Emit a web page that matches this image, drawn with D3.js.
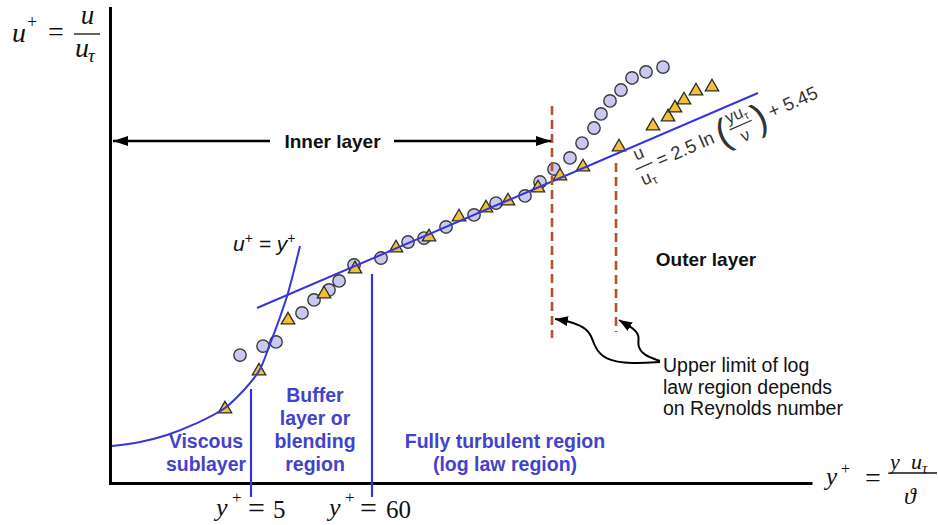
<!DOCTYPE html>
<html><head><meta charset="utf-8">
<script src="https://cdn.jsdelivr.net/npm/d3@7"></script>
<style>body{margin:0;background:#fff}svg{display:block}</style>
</head><body>
<svg id="c" width="938" height="525"></svg>
<script>
// ---- data (y+ on a log axis, u+ linear) ----
const circleYPlus = [3.99, 6.40, 8.36, 14.25, 18.24, 24.8, 30.5, 41.5, 72.2, 125.7, 174.6, 274.3, 487.5, 766, 1389, 1890, 2520, 3500, 4480, 5730, 6617, 7960, 9977, 12510, 16670, 23640];
const circleUPlus = [8.08, 8.65, 8.91, 10.74, 11.56, 12.19, 12.76, 13.77, 14.21, 15.22, 15.47, 16.17, 16.93, 17.68, 18.13, 19.01, 19.83, 20.53, 21.47, 22.42, 23.31, 24.13, 24.82, 25.58, 25.96, 26.27];
const triYPlus = [2.93, 5.89, 10.69, 22.4, 42.3, 98.2, 193.5, 358.3, 623.7, 979.9, 1815, 2851, 4572, 9577, 19250, 26200, 30250, 36390, 46560, 64660];
const triUPlus = [4.67, 7.07, 10.29, 11.94, 13.52, 14.84, 15.54, 16.80, 17.37, 17.81, 18.63, 19.39, 19.96, 21.22, 22.55, 23.12, 23.68, 24.19, 24.76, 25.01];
const logLawYPlus = [5.655, 166300];
const logLawUPlus = [11.05, 24.63];
const viscousYPlus = [0.2878, 0.5117, 0.891, 1.583, 2.93, 4.243, 5.89, 7.387, 9.072, 10.69, 13.68];
const viscousUPlus = [2.34, 2.59, 3.03, 3.73, 4.74, 5.81, 7.07, 8.78, 10.48, 12.0, 14.97];
const boundYPlus = [5, 60];
const boundTopUPlus = [5.94, 13.2];
const boundBottomUPlus = -0.88;
const reLimitYPlus = [2419, 9008];
const reLimitTopUPlus = [23.81, 20.21];
const reLimitBottomUPlus = [9.16, 9.54];
const innerLayerUPlus = 21.6;
const innerLayerStartYPlus = 0.2938;
const regionLabels = [
  {lines: ["Viscous", "sublayer"], cx: 206, y0: 448},
  {lines: ["Buffer", "layer or", "blending", "region"], cx: 315, y0: 402},
  {lines: ["Fully turbulent region", "(log law region)"], cx: 505, y0: 448}
];
const noteLines = ["Upper limit of log", "law region depends", "on Reynolds number"];
const innerLabel = "Inner layer";
const outerLabel = "Outer layer";

// ---- scales ----
const x = d3.scaleLog().domain([0.2763, 504100]).range([110, 812]);
const y = d3.scaleLinear().domain([0, 30]).range([483, 8]);

const svg = d3.select("#c");
const BLUE = "#3636d8", TEXTBLUE = "#4242cc", BROWN = "#b4502a";
const SANS = "'Liberation Sans', Arial, sans-serif";
const SERIF = "'Liberation Serif', 'DejaVu Serif', serif";

const defs = svg.append("defs");
function marker(id, len, wid) {
  defs.append("marker").attr("id", id).attr("markerUnits", "userSpaceOnUse")
    .attr("viewBox", `0 ${-wid/2} ${len} ${wid}`).attr("refX", len).attr("refY", 0)
    .attr("markerWidth", len).attr("markerHeight", wid).attr("orient", "auto")
    .append("path").attr("d", `M0,${-wid/2}L${len},0L0,${wid/2}Z`).attr("fill", "#000");
}
marker("arrBig", 15, 10);
marker("arrSmall", 13, 10);

// ---- axes ----
svg.append("g").attr("transform", `translate(0,${y(0)})`)
  .call(d3.axisBottom(x).tickValues([]).tickSizeOuter(0))
  .call(g => g.select(".domain").attr("stroke", "#000").attr("stroke-width", 3));
svg.append("g").attr("transform", `translate(${x.range()[0]},0)`)
  .call(d3.axisLeft(y).tickValues([]).tickSizeOuter(0))
  .call(g => g.select(".domain").attr("stroke", "#000").attr("stroke-width", 3).attr("stroke-linecap", "square"));

// ---- markers ----
svg.append("g").selectAll("circle").data(circleYPlus.map((v, i) => [v, circleUPlus[i]])).join("circle")
  .attr("cx", d => x(d[0])).attr("cy", d => y(d[1])).attr("r", 6.2)
  .attr("fill", "#c8c8f0").attr("stroke", "#3a3a3a").attr("stroke-width", 1.4);
const tri = d3.symbol().type(d3.symbolTriangle).size(78);
svg.append("g").selectAll("path").data(triYPlus.map((v, i) => [v, triUPlus[i]])).join("path")
  .attr("d", tri).attr("transform", d => `translate(${x(d[0])},${y(d[1])})`)
  .attr("fill", "#f2c035").attr("stroke", "#2a2a2a").attr("stroke-width", 1.3);

// ---- lines ----
const line = d3.line().x(d => x(d[0])).y(d => y(d[1]));
svg.append("path").datum(logLawYPlus.map((v, i) => [v, logLawUPlus[i]]))
  .attr("d", line).attr("fill", "none").attr("stroke", BLUE).attr("stroke-width", 2);
svg.append("path").datum(viscousYPlus.map((v, i) => [v, viscousUPlus[i]]))
  .attr("d", line.curve(d3.curveCatmullRom)).attr("fill", "none").attr("stroke", BLUE).attr("stroke-width", 2);
boundYPlus.forEach((b, i) => {
  svg.append("line").attr("x1", x(b)).attr("x2", x(b)).attr("y1", y(boundTopUPlus[i])).attr("y2", y(boundBottomUPlus))
    .attr("stroke", BLUE).attr("stroke-width", 2.2);
});
reLimitYPlus.forEach((b, i) => {
  svg.append("line").attr("x1", x(b)).attr("x2", x(b)).attr("y1", y(reLimitTopUPlus[i])).attr("y2", y(reLimitBottomUPlus[i]))
    .attr("stroke", BROWN).attr("stroke-width", 2.6).attr("stroke-dasharray", "9,5");
});

// ---- inner layer arrow ----
const iy = y(innerLayerUPlus);
svg.append("line").attr("x1", 270).attr("x2", x(innerLayerStartYPlus)).attr("y1", iy).attr("y2", iy)
  .attr("stroke", "#000").attr("stroke-width", 2.4).attr("marker-end", "url(#arrBig)");
svg.append("line").attr("x1", 394).attr("x2", x(reLimitYPlus[0]) - 1).attr("y1", iy).attr("y2", iy)
  .attr("stroke", "#000").attr("stroke-width", 2.4).attr("marker-end", "url(#arrBig)");
svg.append("text").attr("x", 332.5).attr("y", iy + 6.5).attr("text-anchor", "middle")
  .attr("font-family", SANS).attr("font-weight", "bold").attr("font-size", 19).attr("fill", "#111").text(innerLabel);
svg.append("text").attr("x", 706).attr("y", 266).attr("text-anchor", "middle")
  .attr("font-family", SANS).attr("font-weight", "bold").attr("font-size", 19).attr("fill", "#111").text(outerLabel);

// ---- region labels ----
regionLabels.forEach(r => {
  const t = svg.append("text").attr("text-anchor", "middle").attr("font-family", SANS)
    .attr("font-weight", "bold").attr("font-size", 19.5).attr("fill", TEXTBLUE);
  r.lines.forEach((s, i) => t.append("tspan").attr("x", r.cx).attr("y", r.y0 + i * 23).text(s));
});

// ---- note + curved arrows ----
const nt = svg.append("text").attr("font-family", SANS).attr("font-size", 19.5).attr("fill", "#111");
noteLines.forEach((s, i) => nt.append("tspan").attr("x", 663).attr("y", 372 + i * 21.5).text(s));
const curve = d3.line().curve(d3.curveBasis);
const a1 = [[660, 362], [632, 364], [604, 360], [594, 346], [591, 333], [580, 325], [567, 321], [x(reLimitYPlus[0]) + 3, 319]];
const a2 = [[660, 361], [643, 355], [637, 345], [640, 336], [633, 328], [624, 323], [x(reLimitYPlus[1]) + 3, 320]];
[a1, a2].forEach(p => svg.append("path").attr("d", curve(p)).attr("fill", "none")
  .attr("stroke", "#000").attr("stroke-width", 2).attr("marker-end", "url(#arrSmall)"));

// ---- math labels ----
function t(xp, yp, s, size, italic, family, anchor) {
  return svg.append("text").attr("x", xp).attr("y", yp).attr("font-size", size)
    .attr("font-family", family || SERIF).attr("font-style", italic ? "italic" : "normal")
    .attr("text-anchor", anchor || "start").attr("fill", "#111").text(s);
}
// top-left u+ = u/u_tau
t(12, 42, "u", 28, true); t(27, 28, "+", 18, false); t(48, 41, "=", 28, false);
svg.append("line").attr("x1", 74).attr("x2", 100).attr("y1", 34).attr("y2", 34).attr("stroke", "#111").attr("stroke-width", 1.3);
t(87.5, 24, "u", 27, true, null, "middle"); t(75, 57, "u", 28, true); t(88, 62, "τ", 19, true);
// bottom y+ = 5, y+ = 60
t(216, 516, "y", 26, true); t(232, 503, "+", 17, false); t(248, 518, "=", 30, false); t(273, 518, "5", 25, false);
t(329, 516, "y", 26, true); t(345, 503, "+", 17, false); t(360, 518, "=", 30, false); t(386, 518, "60", 25, false);
// right y+ = y u_tau / theta
t(826, 485, "y", 25, true); t(841, 474, "+", 16, false); t(865, 487, "=", 28, false);
svg.append("line").attr("x1", 890).attr("x2", 937).attr("y1", 473).attr("y2", 473).attr("stroke", "#111").attr("stroke-width", 1.3);
t(890, 469, "y", 22, true); t(911, 469, "u", 22, true); t(922, 473, "τ", 15, true); t(910, 504, "ϑ", 24, true, null, "middle");
// u+ = y+ label
const uy = svg.append("text").attr("x", 233).attr("y", 251).attr("font-family", SANS).attr("font-style", "italic")
  .attr("font-size", 21).attr("fill", "#111");
uy.append("tspan").text("u"); uy.append("tspan").attr("dy", -8).attr("font-size", 14).attr("font-style", "normal").text("+");
uy.append("tspan").attr("dy", 8).text(" = y"); uy.append("tspan").attr("dy", -8).attr("font-size", 14).attr("font-style", "normal").text("+");

// rotated log law equation
const eq = svg.append("g").attr("transform", "translate(644,166) rotate(-23.5)").attr("fill", "#333")
  .attr("font-family", SANS);
eq.append("text").attr("x", 0).attr("y", -8).attr("text-anchor", "middle").attr("font-size", 18).text("u");
eq.append("line").attr("x1", -9).attr("x2", 9).attr("y1", 0).attr("y2", 0).attr("stroke", "#333").attr("stroke-width", 1.2);
const den = eq.append("text").attr("x", -8).attr("y", 18).attr("font-size", 18);
den.append("tspan").text("u"); den.append("tspan").attr("dy", 3).attr("font-size", 12).text("τ");
eq.append("text").attr("x", 14).attr("y", 7).attr("font-size", 18.5).text("= 2.5 ln");
eq.append("text").attr("x", 79).attr("y", 14).attr("font-size", 38).attr("font-weight", 300).text("(");
const num = eq.append("text").attr("x", 105).attr("y", -5).attr("text-anchor", "middle").attr("font-size", 17);
num.append("tspan").text("yu"); num.append("tspan").attr("dy", 3).attr("font-size", 11).text("τ");
eq.append("line").attr("x1", 93).attr("x2", 117).attr("y1", 1).attr("y2", 1).attr("stroke", "#333").attr("stroke-width", 1.2);
eq.append("text").attr("x", 105).attr("y", 18).attr("text-anchor", "middle").attr("font-size", 17).text("ν");
eq.append("text").attr("x", 119).attr("y", 14).attr("font-size", 38).attr("font-weight", 300).text(")");
eq.append("text").attr("x", 136).attr("y", 7).attr("font-size", 18.5).text("+ 5.45");
</script>
</body></html>
